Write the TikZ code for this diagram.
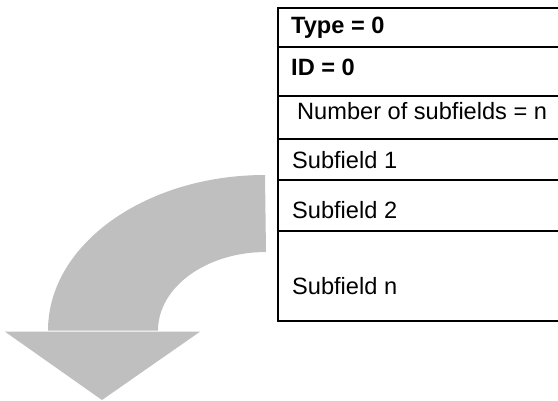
\documentclass[tikz,border=0pt]{standalone}
\usepackage{fontspec}
\setmainfont{Liberation Sans}
\begin{document}
\begin{tikzpicture}[x=1pt,y=1pt,
  rowline/.style={line width=1.3pt,black},
  celltext/.style={anchor=base west,inner sep=0pt,font=\fontsize{23.6}{27}\selectfont},
  boldtext/.style={celltext,font=\fontsize{23.6}{27}\selectfont\bfseries},
  arrowfill/.style={fill=black!25,draw=none}]
\useasboundingbox (0,0) rectangle (558,400);
% curved arrow
\path[arrowfill] (48,69.5) arc[start angle=180,end angle=90,x radius=217,y radius=155.5]
  -- (266,148) arc[start angle=90,end angle=180,x radius=108,y radius=78.5] -- cycle;
\path[arrowfill] (5,68.3) -- (200,68.3) -- (102,0) -- cycle;
% table
\coordinate (tl) at (278,392);
\coordinate (bl) at (278,79);
\draw[rowline] (558,392) -- (tl) -- (bl) -- (558,79);
\foreach \yy in {353,304,261,220,169}{\draw[rowline] (278,\yy) -- (558,\yy);}
\node[boldtext] (type) at (291,366) {Type = 0};
\node[boldtext] (id) at (291,324) {ID = 0};
\node[celltext] (num) at (297,280) {Number of subfields = n};
\node[celltext] (s1) at (292,232) {Subfield 1};
\node[celltext] (s2) at (292,182) {Subfield 2};
\node[celltext] (sn) at (292,106) {Subfield n};
\end{tikzpicture}
\end{document}
